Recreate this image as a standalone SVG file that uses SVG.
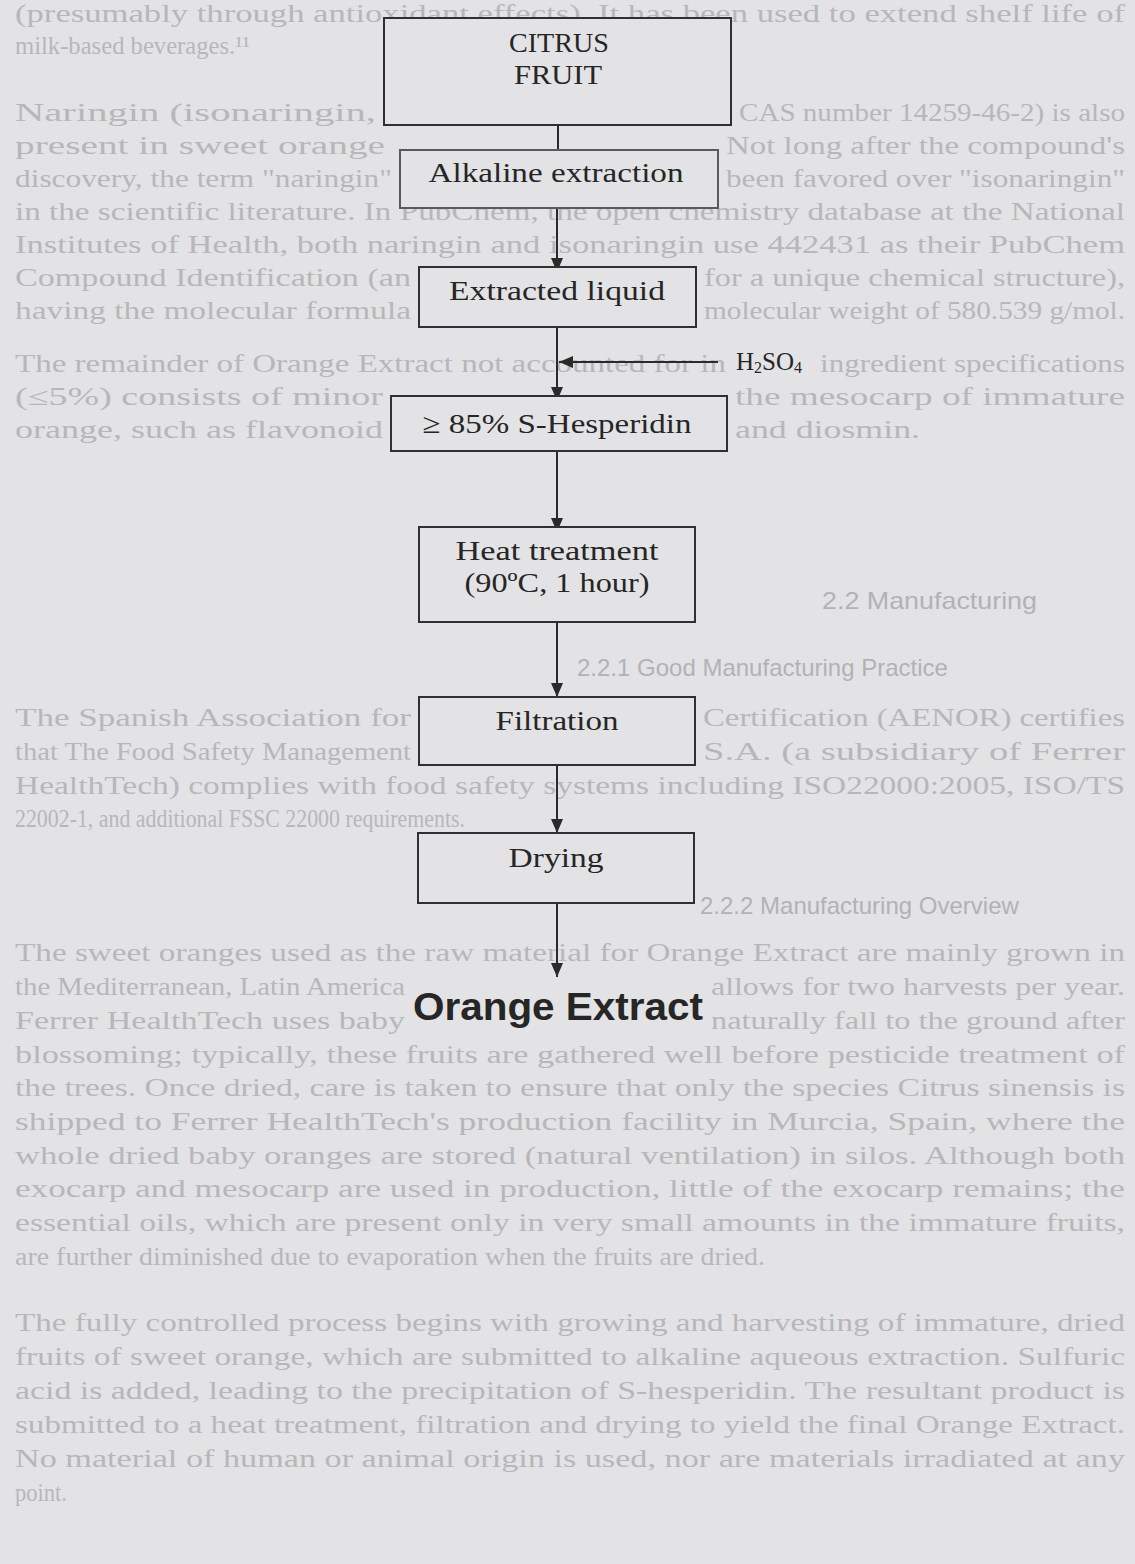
<svg xmlns="http://www.w3.org/2000/svg" width="1135" height="1564" viewBox="0 0 1135 1564">
<style>
.bg{fill:#e3e3e5}
.pt{font-family:"Liberation Serif","Times New Roman",serif;font-size:25px;fill:#b7b7ba}
.ph{font-family:"Liberation Sans",Arial,sans-serif;font-size:24px;fill:#b2b2b5}
.box{fill:#e3e3e5;stroke:#303030;stroke-width:2}
.box2{fill:#e3e3e5;stroke:#5a5a5a;stroke-width:2}
.lbl{font-family:"Liberation Serif","Times New Roman",serif;font-size:28px;fill:#262626;text-anchor:middle}
.fin{font-family:"Liberation Sans",Arial,sans-serif;font-size:39px;font-weight:bold;fill:#262626;text-anchor:middle}
.con{stroke:#2a2a2a;stroke-width:2;fill:none}
</style>
<defs>
<marker id="ah" viewBox="0 0 14 12" refX="14" refY="6" markerWidth="14" markerHeight="12" markerUnits="userSpaceOnUse" orient="auto">
<path d="M0,0 L14,6 L0,12 z" fill="#2a2a2a"/>
</marker>
</defs>
<rect class="bg" x="0" y="0" width="1135" height="1564"/>
<g id="page-text">
<text class="pt" x="15" y="22" textLength="1110" lengthAdjust="spacingAndGlyphs">(presumably through antioxidant effects). It has been used to extend shelf life of</text>
<text class="pt" x="15" y="54" textLength="235" lengthAdjust="spacingAndGlyphs">milk-based beverages.¹¹</text>
<text class="pt" x="15" y="121" textLength="361" lengthAdjust="spacingAndGlyphs">Naringin (isonaringin,</text>
<text class="pt" x="739" y="121" textLength="386" lengthAdjust="spacingAndGlyphs">CAS number 14259-46-2) is also</text>
<text class="pt" x="15" y="154" textLength="370" lengthAdjust="spacingAndGlyphs">present in sweet orange</text>
<text class="pt" x="726" y="154" textLength="399" lengthAdjust="spacingAndGlyphs">Not long after the compound's</text>
<text class="pt" x="15" y="187" textLength="377" lengthAdjust="spacingAndGlyphs">discovery, the term "naringin"</text>
<text class="pt" x="726" y="187" textLength="399" lengthAdjust="spacingAndGlyphs">been favored over "isonaringin"</text>
<text class="pt" x="15" y="220" textLength="1110" lengthAdjust="spacingAndGlyphs">in the scientific literature. In PubChem, the open chemistry database at the National</text>
<text class="pt" x="15" y="253" textLength="1110" lengthAdjust="spacingAndGlyphs">Institutes of Health, both naringin and isonaringin use 442431 as their PubChem</text>
<text class="pt" x="15" y="286" textLength="396" lengthAdjust="spacingAndGlyphs">Compound Identification (an</text>
<text class="pt" x="704" y="286" textLength="421" lengthAdjust="spacingAndGlyphs">for a unique chemical structure),</text>
<text class="pt" x="15" y="319" textLength="396" lengthAdjust="spacingAndGlyphs">having the molecular formula</text>
<text class="pt" x="704" y="319" textLength="421" lengthAdjust="spacingAndGlyphs">molecular weight of 580.539 g/mol.</text>
<text class="pt" x="15" y="372" textLength="711" lengthAdjust="spacingAndGlyphs">The remainder of Orange Extract not accounted for in</text>
<text class="pt" x="820" y="372" textLength="305" lengthAdjust="spacingAndGlyphs">ingredient specifications</text>
<text class="pt" x="15" y="405" textLength="368" lengthAdjust="spacingAndGlyphs">(≤5%) consists of minor</text>
<text class="pt" x="735" y="405" textLength="390" lengthAdjust="spacingAndGlyphs">the mesocarp of immature</text>
<text class="pt" x="15" y="438" textLength="368" lengthAdjust="spacingAndGlyphs">orange, such as flavonoid</text>
<text class="pt" x="735" y="438" textLength="185" lengthAdjust="spacingAndGlyphs">and diosmin.</text>
<text class="ph" x="822" y="609" font-size="26" textLength="215" lengthAdjust="spacingAndGlyphs">2.2 Manufacturing</text>
<text class="ph" x="577" y="676">2.2.1 Good Manufacturing Practice</text>
<text class="pt" x="15" y="726" textLength="396" lengthAdjust="spacingAndGlyphs">The Spanish Association for</text>
<text class="pt" x="703" y="726" textLength="422" lengthAdjust="spacingAndGlyphs">Certification (AENOR) certifies</text>
<text class="pt" x="15" y="760" textLength="396" lengthAdjust="spacingAndGlyphs">that The Food Safety Management</text>
<text class="pt" x="703" y="760" textLength="422" lengthAdjust="spacingAndGlyphs">S.A. (a subsidiary of Ferrer</text>
<text class="pt" x="15" y="794" textLength="1110" lengthAdjust="spacingAndGlyphs">HealthTech) complies with food safety systems including ISO22000:2005, ISO/TS</text>
<text class="pt" x="15" y="827" textLength="450" lengthAdjust="spacingAndGlyphs">22002-1, and additional FSSC 22000 requirements.</text>
<text class="ph" x="700" y="914">2.2.2 Manufacturing Overview</text>
<text class="pt" x="15" y="961" textLength="1110" lengthAdjust="spacingAndGlyphs">The sweet oranges used as the raw material for Orange Extract are mainly grown in</text>
<text class="pt" x="15" y="995" textLength="390" lengthAdjust="spacingAndGlyphs">the Mediterranean, Latin America</text>
<text class="pt" x="711" y="995" textLength="414" lengthAdjust="spacingAndGlyphs">allows for two harvests per year.</text>
<text class="pt" x="15" y="1029" textLength="390" lengthAdjust="spacingAndGlyphs">Ferrer HealthTech uses baby</text>
<text class="pt" x="711" y="1029" textLength="414" lengthAdjust="spacingAndGlyphs">naturally fall to the ground after</text>
<text class="pt" x="15" y="1063" textLength="1110" lengthAdjust="spacingAndGlyphs">blossoming; typically, these fruits are gathered well before pesticide treatment of</text>
<text class="pt" x="15" y="1096" textLength="1110" lengthAdjust="spacingAndGlyphs">the trees. Once dried, care is taken to ensure that only the species Citrus sinensis is</text>
<text class="pt" x="15" y="1130" textLength="1110" lengthAdjust="spacingAndGlyphs">shipped to Ferrer HealthTech's production facility in Murcia, Spain, where the</text>
<text class="pt" x="15" y="1164" textLength="1110" lengthAdjust="spacingAndGlyphs">whole dried baby oranges are stored (natural ventilation) in silos. Although both</text>
<text class="pt" x="15" y="1197" textLength="1110" lengthAdjust="spacingAndGlyphs">exocarp and mesocarp are used in production, little of the exocarp remains; the</text>
<text class="pt" x="15" y="1231" textLength="1110" lengthAdjust="spacingAndGlyphs">essential oils, which are present only in very small amounts in the immature fruits,</text>
<text class="pt" x="15" y="1265" textLength="750" lengthAdjust="spacingAndGlyphs">are further diminished due to evaporation when the fruits are dried.</text>
<text class="pt" x="15" y="1331" textLength="1110" lengthAdjust="spacingAndGlyphs">The fully controlled process begins with growing and harvesting of immature, dried</text>
<text class="pt" x="15" y="1365" textLength="1110" lengthAdjust="spacingAndGlyphs">fruits of sweet orange, which are submitted to alkaline aqueous extraction. Sulfuric</text>
<text class="pt" x="15" y="1399" textLength="1110" lengthAdjust="spacingAndGlyphs">acid is added, leading to the precipitation of S-hesperidin. The resultant product is</text>
<text class="pt" x="15" y="1433" textLength="1110" lengthAdjust="spacingAndGlyphs">submitted to a heat treatment, filtration and drying to yield the final Orange Extract.</text>
<text class="pt" x="15" y="1467" textLength="1110" lengthAdjust="spacingAndGlyphs">No material of human or animal origin is used, nor are materials irradiated at any</text>
<text class="pt" x="15" y="1501" textLength="52" lengthAdjust="spacingAndGlyphs">point.</text>
</g>
<g id="connectors">
<line class="con" x1="558" y1="125" x2="558" y2="150"/>
<line class="con" x1="557" y1="208" x2="557" y2="272" marker-end="url(#ah)"/>
<line class="con" x1="557" y1="327" x2="557" y2="401" marker-end="url(#ah)"/>
<line class="con" x1="718" y1="362" x2="559" y2="362" marker-end="url(#ah)"/>
<line class="con" x1="557" y1="451" x2="557" y2="532" marker-end="url(#ah)"/>
<line class="con" x1="557" y1="622" x2="557" y2="697" marker-end="url(#ah)"/>
<line class="con" x1="557" y1="765" x2="557" y2="833" marker-end="url(#ah)"/>
<line class="con" x1="557" y1="903" x2="557" y2="977" marker-end="url(#ah)"/>
</g>
<g id="node-citrus">
<rect class="box" x="384" y="18" width="347" height="107"/>
<text class="lbl" x="559" y="52" textLength="100" lengthAdjust="spacingAndGlyphs">CITRUS</text>
<text class="lbl" x="558" y="84" textLength="88" lengthAdjust="spacingAndGlyphs">FRUIT</text>
</g>
<g id="node-alkaline">
<rect class="box2" x="400" y="150" width="318" height="58"/>
<text class="lbl" x="556" y="182" textLength="255" lengthAdjust="spacingAndGlyphs">Alkaline extraction</text>
</g>
<g id="node-extracted">
<rect class="box" x="419" y="267" width="277" height="60"/>
<text class="lbl" x="557" y="300" textLength="216" lengthAdjust="spacingAndGlyphs">Extracted liquid</text>
</g>
<g id="node-h2so4">
<text x="736" y="370" font-family="Liberation Serif, Times New Roman, serif" font-size="25" fill="#262626">H<tspan font-size="16" dy="3">2</tspan><tspan dy="-3">SO</tspan><tspan font-size="16" dy="3">4</tspan></text>
</g>
<g id="node-hesperidin">
<rect class="box" x="391" y="396" width="336" height="55"/>
<text class="lbl" x="557" y="433" textLength="269" lengthAdjust="spacingAndGlyphs">≥ 85% S-Hesperidin</text>
</g>
<g id="node-heat">
<rect class="box" x="419" y="527" width="276" height="95"/>
<text class="lbl" x="557" y="560" textLength="203" lengthAdjust="spacingAndGlyphs">Heat treatment</text>
<text class="lbl" x="557" y="592" textLength="185" lengthAdjust="spacingAndGlyphs">(90ºC, 1 hour)</text>
</g>
<g id="node-filtration">
<rect class="box" x="419" y="697" width="276" height="68"/>
<text class="lbl" x="557" y="730" textLength="123" lengthAdjust="spacingAndGlyphs">Filtration</text>
</g>
<g id="node-drying">
<rect class="box" x="418" y="833" width="276" height="70"/>
<text class="lbl" x="556" y="867" textLength="95" lengthAdjust="spacingAndGlyphs">Drying</text>
</g>
<g id="node-orange">
<text class="fin" x="558" y="1020" textLength="290" lengthAdjust="spacingAndGlyphs">Orange Extract</text>
</g>
</svg>
